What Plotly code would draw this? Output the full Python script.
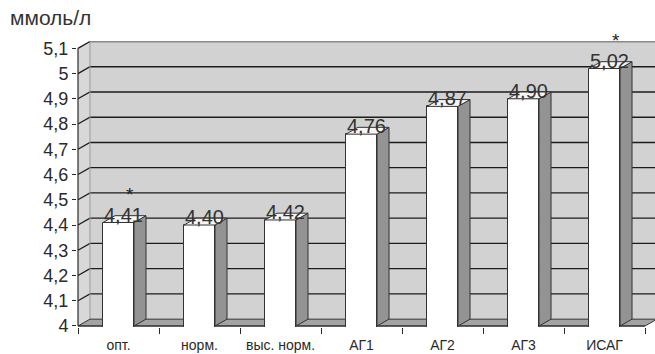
import plotly.graph_objects as go

# Data
categories = ["опт.", "норм.", "выс. норм.", "АГ1", "АГ2", "АГ3", "ИСАГ"]
values = [4.41, 4.40, 4.42, 4.76, 4.87, 4.90, 5.02]
stars = ["*", "", "", "", "", "", "*"]
y_tick_vals = [4.0, 4.1, 4.2, 4.3, 4.4, 4.5, 4.6, 4.7, 4.8, 4.9, 5.0, 5.1]
y_tick_text = ["4", "4,1", "4,2", "4,3", "4,4", "4,5", "4,6", "4,7", "4,8", "4,9", "5", "5,1"]

# Pseudo-3D geometry (axis units)
DX, DY = 0.148, 0.027          # depth offset of the back wall
BAR_W = 0.383
Y_MIN, Y_MAX = 4.0, 5.1
X_LO, X_HI = -0.5123, 6.623
Y_LO, Y_HI = 3.996, 5.129
XL, XR = -0.5, len(categories) - 0.5

FONT = "Liberation Sans, Arial, sans-serif"
INK = "#2a2a2a"

fig = go.Figure()
shapes = []


def path(xs, ys, closed=True):
    d = "M " + " L ".join(f"{x},{y}" for x, y in zip(xs, ys))
    return d + (" Z" if closed else "")


def wall_shape(xs, ys, fill, line_color=None, lw=0, closed=True, layer="below"):
    shapes.append(dict(type="path", path=path(xs, ys, closed), xref="x", yref="y",
                       fillcolor=fill if closed else None, layer=layer,
                       line=dict(color=line_color or fill or "rgba(0,0,0,0)", width=lw)))


def poly(xs, ys, fill, line_color, lw):
    fig.add_trace(go.Scatter(
        x=list(xs) + [xs[0]], y=list(ys) + [ys[0]], mode="lines", fill="toself",
        fillcolor=fill, line=dict(color=line_color, width=lw),
        hoverinfo="skip", showlegend=False))


# Back wall and left side wall
wall_shape([XL + DX, X_HI + 1, X_HI + 1, XL + DX],
           [Y_MIN + DY, Y_MIN + DY, Y_MAX + DY, Y_MAX + DY], "#d2d2d2")
wall_shape([XL, XL + DX, XL + DX, XL],
           [Y_MIN, Y_MIN + DY, Y_MAX + DY, Y_MAX], "#d8d8d8")

# Gridlines on the back wall plus their diagonals on the side wall
for t in y_tick_vals[1:-1]:
    wall_shape([XL, XL + DX, X_HI + 1], [t, t + DY, t + DY], None, "#1c1c1c", 1.3, closed=False)
wall_shape([XL, XL + DX], [Y_MAX, Y_MAX + DY], None, "#1c1c1c", 1.3, closed=False)

# Wall edges
wall_shape([XL + DX, X_HI + 1], [Y_MAX + DY, Y_MAX + DY], None, "#8a8a8a", 2, closed=False)
wall_shape([XL + DX, XL + DX], [Y_MIN + DY, Y_MAX + DY], None, "#9a9a9a", 1, closed=False)

# Floor
wall_shape([XL, XR, XR + DX, XL + DX],
           [Y_MIN, Y_MIN, Y_MIN + DY, Y_MIN + DY], "#a3a3a3", "#333333", 1)

# Front axis lines
wall_shape([XL, XL], [Y_MIN, Y_MAX], None, INK, 1.2, closed=False)
wall_shape([XL, XR], [Y_MIN, Y_MIN], None, INK, 1.2, closed=False)

# Front faces of the columns
fig.add_trace(go.Bar(
    x=list(range(len(categories))), y=values, width=BAR_W,
    marker=dict(color="white", line=dict(color="#333333", width=1)),
    hoverinfo="skip", showlegend=False))

# Side and top faces of the columns
for i, v in enumerate(values):
    x0, x1 = i - BAR_W / 2, i + BAR_W / 2
    poly([x1, x1 + DX, x1 + DX, x1],
         [Y_MIN, Y_MIN + DY, v + DY, v], "#939393", "#333333", 1)
    poly([x0, x1, x1 + DX, x0 + DX],
         [v, v, v + DY, v + DY], "#f6f6f6", "#333333", 1)

# Invisible trace that carries the boundary tick axis
fig.add_trace(go.Scatter(x=[None], y=[None], xaxis="x2", showlegend=False))

annotations = []
for i, v in enumerate(values):
    annotations.append(dict(
        x=i, y=v, xref="x", yref="y", text=f"{v:.2f}".replace(".", ","),
        showarrow=False, xanchor="center", yanchor="bottom", xshift=5, yshift=-5,
        font=dict(family=FONT, size=20, color="#333333")))
    if stars[i]:
        annotations.append(dict(
            x=i, y=v, xref="x", yref="y", text=stars[i],
            showarrow=False, xanchor="center", yanchor="middle", xshift=11, yshift=28,
            font=dict(family=FONT, size=19, color="#222222")))

fig.update_layout(
    width=655, height=354,
    margin=dict(l=77, r=0, t=41, b=27),
    paper_bgcolor="white", plot_bgcolor="white",
    bargap=0,
    title=dict(text="ммоль/л", x=10 / 655, xref="container", xanchor="left",
               y=1 - 18 / 354, yref="container", yanchor="middle",
               font=dict(family=FONT, size=21, color="#333333")),
    xaxis=dict(range=[X_LO, X_HI], tickvals=list(range(len(categories))),
               ticktext=categories, ticks="", showgrid=False, zeroline=False,
               showline=False, ticklabelstandoff=8,
               tickfont=dict(family=FONT, size=14, color=INK)),
    xaxis2=dict(range=[X_LO, X_HI], overlaying="x", anchor="y", side="bottom",
                tickvals=[k - 0.5 for k in range(len(categories) + 1)],
                ticks="outside", ticklen=6, tickwidth=1, tickcolor=INK,
                showticklabels=False, showgrid=False, zeroline=False, showline=False),
    yaxis=dict(range=[Y_LO, Y_HI], tickvals=y_tick_vals, ticktext=y_tick_text,
               ticks="outside", ticklen=4, tickwidth=1, tickcolor=INK,
               showgrid=False, zeroline=False, showline=False,
               tickfont=dict(family=FONT, size=18, color=INK)),
    shapes=shapes,
    annotations=annotations,
)

fig.write_html("out.html")
